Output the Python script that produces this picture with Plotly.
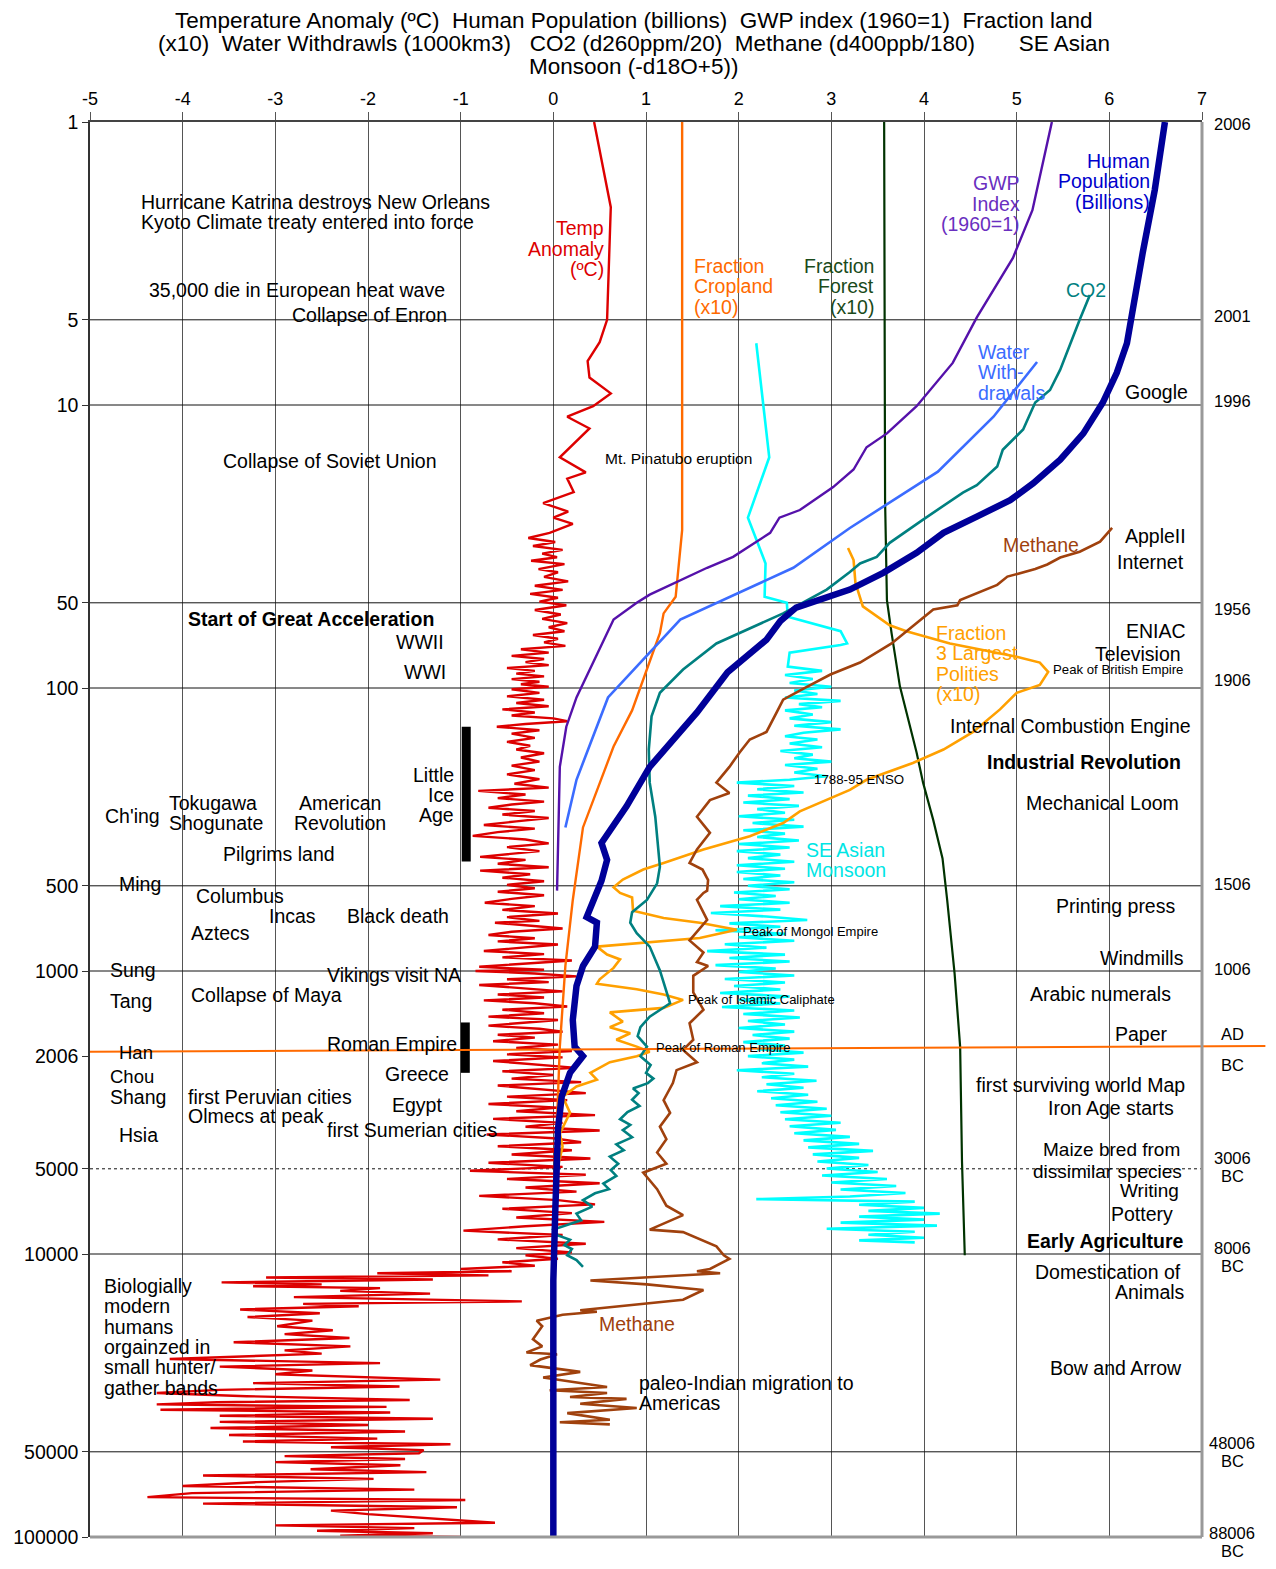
import math
import plotly.graph_objects as go

FONT = "Liberation Sans, Arial, sans-serif"

# ---------------- DATA (years before 2006, value on common x scale) ----------------
LEFT_TICKS = [1, 5, 10, 50, 100, 500, 1000, 2006, 5000, 10000, 50000, 100000]
X_TICKS = [-5, -4, -3, -2, -1, 0, 1, 2, 3, 4, 5, 6, 7]
GRID_Y = [5, 10, 50, 100, 500, 1000, 5000, 10000, 50000]

TEMP = [(1, 0.44), (2.0, 0.62), (5.0, 0.58), (6.0, 0.50), (7.0, 0.37), (8.0, 0.39), (9.1, 0.62), (10.1, 0.43),
        (11, 0.15), (12.1, 0.39), (15.3, 0.07), (17.3, 0.35), (18.2, 0.15), (20.3, 0.22), (22.2, -0.11),
        (23.8, 0.16), (25, 0.0), (26.3, 0.21), (28.3, -0.04), (29.5, -0.27), (30.5, 0.02), (31.5, -0.22),
        (32.5, 0.1), (33.5, -0.12), (34.5, 0.04), (35.5, -0.24), (36.5, 0.12), (38, -0.16), (39, 0.05),
        (40.5, -0.1), (42, 0.16), (43.5, -0.2), (45, 0.1), (46.5, -0.25), (48, 0.05), (49.5, -0.15),
        (51, 0.14), (53, -0.2), (55, 0.08), (57, -0.12), (59, 0.15), (61, -0.05), (63, 0.12), (65, -0.22),
        (67, 0.05), (69, -0.1), (71, 0.13), (73, -0.35), (75, -0.05), (77, -0.45), (79, -0.1), (81, -0.3),
        (83, -0.05), (85, -0.5), (87, -0.2), (89, -0.4), (91, -0.1), (93, -0.45), (95, -0.15), (97, -0.35),
        (99, -0.05), (101, -0.45), (104, -0.15), (107, -0.5), (110, -0.1), (113, -0.4), (116, -0.05),
        (119, -0.55), (122, -0.2), (125, -0.45), (128, 0.0), (131, 0.15), (134, -0.3), (137, -0.61),
        (141, -0.15), (145, -0.45), (150, -0.2), (155, -0.5), (160, -0.25), (165, -0.4), (170, -0.1),
        (176, -0.35), (182, -0.15), (188, -0.45), (195, -0.2), (202, -0.5), (210, -0.15), (218, -0.42),
        (225, -0.05), (231, -0.81), (238, -0.3), (245, -0.6), (252, -0.1), (258, -0.45), (265, -0.7),
        (272, -0.2), (280, -0.55), (288, -0.05), (296, -0.4), (305, -0.75), (314, -0.2), (323, -0.6),
        (333, -0.87), (343, -0.3), (354, -0.05), (365, -0.5), (377, -0.15), (388, -0.6), (395, -0.79),
        (405, -0.3), (418, -0.6), (430, -0.05), (442, -0.79), (455, -0.25), (468, -0.55), (482, -0.1),
        (496, -0.5), (510, -0.2), (525, -0.6), (540, -0.1), (556, -0.45), (574, -0.74), (590, -0.2),
        (608, -0.55), (626, 0.05), (645, -0.5), (665, -0.15), (675, -0.63), (690, -0.3), (708, 0.1),
        (727, -0.45), (746, -0.7), (766, -0.2), (786, -0.6), (806, 0.05), (828, -0.4), (850, -0.75),
        (872, -0.1), (895, -0.55), (918, 0.2), (942, -0.35), (966, -0.8), (990, -0.1), (1000, -0.84),
        (1020, -0.2), (1045, 0.25), (1070, -0.5), (1095, -0.05), (1120, -0.8), (1150, -0.3), (1180, 0.1),
        (1210, -0.6), (1240, -0.1), (1270, -0.75), (1300, -0.2), (1335, 0.15), (1370, -0.55), (1410, -0.1),
        (1450, -0.7), (1490, 0.05), (1530, -0.45), (1560, -0.7), (1600, -0.15), (1640, 0.1), (1680, -0.6),
        (1720, -0.2), (1770, -0.65), (1820, 0.05), (1870, -0.4), (1920, 0.2), (1970, -0.5), (2020, 0.1),
        (2080, -0.65), (2140, -0.15), (2200, 0.25), (2260, -0.55), (2330, 0.0), (2400, -0.45), (2470, 0.3),
        (2540, -0.6), (2620, -0.1), (2700, 0.35), (2780, -0.5), (2860, 0.15), (2950, -0.7), (3040, 0.05),
        (3130, -0.4), (3230, 0.45), (3330, -0.65), (3440, 0.1), (3550, -0.3), (3660, 0.5), (3780, -0.72),
        (3900, 0.0), (4030, 0.3), (4160, -0.6), (4300, 0.2), (4450, -0.45), (4600, 0.4), (4760, -0.7),
        (4920, 0.1), (5080, -0.9), (5250, 0.35), (5430, -0.5), (5620, 0.5), (5820, -0.3), (6020, 0.25),
        (6230, -0.8), (6450, 0.05), (6680, 0.45), (6920, -0.55), (7170, 0.2), (7430, -0.4), (7700, 0.55),
        (7980, -0.3), (8270, -0.97), (8570, 0.1), (8880, -0.6), (9200, 0.35), (9530, -0.4), (9870, 0.2),
        (10100, -0.3), (10400, 0.05), (10700, -0.55), (11000, -0.2), (11300, -1.0), (11500, -0.45),
        (11700, -1.9), (11900, -0.7), (12100, -3.1), (12300, -1.3), (12600, -3.58), (12800, -2.5),
        (13000, -3.24), (13200, -1.87), (13500, -2.3), (13800, -1.33), (14200, -2.8), (14700, -0.34),
        (15000, -2.7), (15300, -2.1), (15700, -3.38), (16200, -2.52), (16700, -3.3), (17200, -2.6),
        (18000, -2.98), (18600, -2.38), (19200, -2.9), (19800, -2.2), (20500, -3.45), (21200, -2.19),
        (21900, -2.9), (22500, -2.5), (23500, -4.14), (24300, -1.87), (25000, -3.6), (25800, -2.6),
        (26600, -3.0), (27800, -1.22), (28600, -3.24), (29400, -1.66), (30200, -3.6), (31000, -4.28),
        (31800, -3.31), (32800, -1.55), (33400, -3.63), (34000, -4.28), (34700, -1.8), (35500, -4.24),
        (36300, -1.76), (37300, -3.6), (38200, -1.3), (39200, -3.6), (40200, -2.0), (41200, -3.7),
        (42400, -1.6), (43600, -3.5), (44900, -1.9), (46000, -3.35), (47000, -1.11), (48200, -2.4),
        (49300, -1.4), (50600, -1.45), (51800, -2.9), (53000, -1.6), (54400, -3.0), (55800, -1.65),
        (57600, -2.62), (59000, -1.37), (60600, -3.78), (62300, -1.94), (64000, -3.2), (66000, -4.0),
        (68000, -1.5), (70000, -3.9), (72300, -4.38), (74000, -0.95), (76200, -3.78), (78500, -1.04),
        (80700, -2.4), (83000, -2.0), (86500, -1.22), (89000, -0.63), (91000, -3.0), (93000, -1.5),
        (95000, -2.55), (97000, -1.3), (99000, -2.3), (100000, -1.0)]

POPULATION = [(1, 6.6), (1.74, 6.49), (2.9, 6.36), (4.9, 6.25), (6.05, 6.19), (7.7, 6.08), (9.8, 5.93),
              (12.6, 5.72), (15.6, 5.47), (18.9, 5.18), (21.7, 4.93), (24.8, 4.57), (28.3, 4.21),
              (33.3, 3.92), (39.2, 3.56), (44.9, 3.2), (52, 2.62), (58, 2.45), (67.5, 2.3), (88, 1.88),
              (122, 1.55), (190, 1.04), (262, 0.79), (353, 0.52), (405, 0.58), (480, 0.52), (561, 0.43),
              (645, 0.36), (675, 0.47), (820, 0.45), (960, 0.32), (1130, 0.25), (1490, 0.21), (1850, 0.23),
              (2000, 0.32), (2290, 0.18), (2780, 0.09), (3630, 0.05), (7200, 0.02), (12400, 0.0),
              (100000, 0.0)]

GWP = [(1, 5.38), (2.05, 5.17), (3.02, 4.96), (4.9, 4.57), (7.1, 4.31), (10.1, 3.92), (12.6, 3.6),
       (14.1, 3.38), (16.9, 3.24), (19.5, 3.02), (23.5, 2.66), (25, 2.44), (28.3, 2.34), (34.4, 1.94),
       (37.6, 1.66), (46.8, 1.04), (50, 0.9), (57.3, 0.65), (108, 0.25), (137, 0.14), (190, 0.07),
       (520, 0.04)]

WATER = [(7.05, 5.22), (11, 4.75), (17.2, 4.15), (27.2, 3.2), (37.6, 2.59), (57.3, 1.37), (108, 0.59),
         (211, 0.25), (311, 0.13)]

CO2 = [(4.09, 5.79), (5.0, 5.68), (7.5, 5.47), (8.85, 5.36), (9.8, 5.2), (12.2, 5.07), (14.4, 4.85),
       (16.5, 4.79), (19.2, 4.57), (20.4, 4.42), (25.4, 3.99), (30.7, 3.63), (34.4, 3.49), (36.3, 3.31),
       (38.9, 3.2), (44.9, 2.95), (54.5, 2.48), (69.6, 1.76), (86, 1.4), (104, 1.15), (126, 1.06),
       (165, 1.03), (216, 1.04), (285, 1.1), (428, 1.15), (490, 1.12), (561, 1.01), (620, 0.85),
       (675, 0.83), (735, 0.9), (820, 1.04), (995, 1.15), (1300, 1.26), (1450, 1.04), (1580, 0.94),
       (1700, 0.91), (1850, 1.01), (2000, 0.94), (2150, 1.05), (2290, 1.0), (2400, 1.08), (2490, 1.02),
       (2600, 0.86), (2700, 0.92), (2850, 0.85), (3000, 0.93), (3150, 0.8), (3340, 0.72), (3500, 0.83),
       (3650, 0.75), (3870, 0.85), (4100, 0.68), (4300, 0.76), (4530, 0.61), (4800, 0.7), (5050, 0.62),
       (5300, 0.68), (5640, 0.54), (5900, 0.6), (6100, 0.45), (6450, 0.32), (6800, 0.42), (7200, 0.25),
       (7600, 0.3), (8200, 0.0), (8600, 0.05), (8900, 0.18), (9300, 0.12), (9600, 0.2), (10100, 0.15),
       (10500, 0.25), (11100, 0.32)]

METHANE = [(27.2, 6.03), (30.4, 5.9), (33, 5.68), (34.6, 5.47), (36.6, 5.33), (38, 5.2), (40.4, 4.9),
           (43.2, 4.79), (48.9, 4.39), (51, 4.36), (52.8, 4.1), (63, 3.81), (69.6, 3.65), (81.3, 3.31),
           (89.6, 2.99), (101, 2.69), (110, 2.48), (122, 2.41), (143, 2.3), (152, 2.12), (169, 2.01),
           (190, 1.9), (216, 1.76), (235, 1.9), (249, 1.69), (285, 1.55), (325, 1.69), (372, 1.55),
           (415, 1.47), (438, 1.61), (477, 1.67), (520, 1.66), (530, 1.62), (560, 1.55), (660, 1.66),
           (780, 1.47), (860, 1.62), (930, 1.55), (960, 1.67), (1040, 1.51), (1190, 1.51), (1370, 1.62),
           (1530, 1.47), (1750, 1.51), (1900, 1.4), (2100, 1.55), (2240, 1.33), (2490, 1.29),
           (2860, 1.19), (3170, 1.26), (3550, 1.15), (3930, 1.22), (4380, 1.12), (4800, 1.22),
           (5160, 0.97), (5900, 1.12), (6750, 1.22), (7290, 1.4), (8200, 1.04), (8370, 1.4), (9400, 1.76),
           (10100, 1.84), (10400, 1.9), (11300, 1.69), (11500, 1.55), (11700, 1.8), (12400, 0.4),
           (12800, 1.01), (13400, 1.62), (14500, 1.4), (15800, 0.29), (16000, 0.47), (16400, 0.1),
           (17200, -0.18), (18000, -0.12), (20000, -0.22), (21200, -0.12), (22300, -0.29), (22600, 0.04),
           (23600, -0.14), (24700, -0.25), (26100, 0.29), (27300, -0.11), (29500, 0.58), (30300, -0.04),
           (31000, 0.58), (32000, 0.18), (32500, 0.79), (33800, 0.29), (35000, 0.9), (36500, 0.15),
           (38500, 0.61), (39300, 0.07), (40000, 0.61)]

CROPLAND = [(1, 1.39), (27.7, 1.39), (47.6, 1.32), (54.5, 1.19), (64, 1.15), (120, 0.85), (161, 0.65),
            (311, 0.32), (561, 0.21), (960, 0.13), (1850, 0.07), (5050, 0.02), (10000, 0.0)]

FOREST = [(1, 3.57), (21.7, 3.58), (48.9, 3.6), (64, 3.65), (98.7, 3.74), (137, 3.85), (169, 3.92),
          (216, 3.99), (293, 4.1), (400, 4.2), (561, 4.25), (1020, 4.33), (1850, 4.39), (4700, 4.41),
          (10100, 4.44)]

POLITIES = [(32, 3.18), (35.3, 3.24), (42.5, 3.26), (51.5, 3.34), (60, 3.63), (63, 3.81), (69.6, 4.28),
            (77.6, 5.0), (81.3, 5.25), (87.7, 5.34), (97.6, 5.25), (104, 5.0), (119, 4.82), (143, 4.53),
            (165, 4.21), (184, 3.88), (211, 3.38), (229, 3.2), (273, 2.66), (300, 2.48), (334, 2.12),
            (372, 1.62), (415, 1.19), (438, 0.97), (475, 0.75), (506, 0.65), (530, 0.72), (550, 0.85),
            (612, 0.86), (650, 1.19), (675, 1.58), (715, 1.98), (765, 1.58), (820, 0.47), (875, 0.58),
            (910, 0.72), (975, 0.65), (1070, 0.5), (1110, 0.47), (1160, 0.9), (1210, 1.19), (1265, 1.4),
            (1350, 1.19), (1400, 0.61), (1510, 0.75), (1580, 0.61), (1660, 0.83), (1750, 0.68),
            (1850, 0.9), (1930, 1.04), (2000, 0.9), (2100, 0.61), (2290, 0.4), (2420, 0.47), (2560, 0.25),
            (2780, 0.1), (3170, 0.18), (3750, 0.07), (4170, 0.1), (5050, 0.04)]

MONSOON = [(6.05, 2.19), (15.3, 2.33), (25, 2.1), (36.3, 2.29), (47.6, 2.28), (50, 2.52), (56, 2.53),
           (63, 3.1), (69.6, 3.17), (70.5, 3.1), (75, 2.55), (84, 2.53), (87, 2.9), (90, 2.5), (93, 2.8),
           (96, 2.55), (99, 3.0), (102, 2.6), (105, 2.85), (108, 2.5), (111, 3.1), (114, 2.65), (117, 2.9),
           (120, 2.5), (124, 2.8), (128, 2.55), (132, 3.0), (136, 2.6), (140, 3.1), (144, 2.7), (148, 2.5),
           (152, 2.85), (157, 2.55), (162, 2.9), (167, 2.45), (172, 2.8), (177, 2.6), (182, 3.0),
           (187, 2.5), (193, 2.85), (199, 2.6), (205, 2.95), (211, 2.55), (216, 1.98), (222, 2.6),
           (228, 2.2), (234, 2.7), (240, 2.1), (247, 2.55), (254, 2.05), (261, 2.65), (268, 2.2),
           (276, 2.5), (284, 2.0), (292, 2.6), (300, 2.15), (309, 2.7), (318, 2.05), (327, 2.5),
           (336, 2.2), (346, 2.65), (356, 2.0), (366, 2.55), (377, 1.98), (388, 2.45), (399, 2.1),
           (411, 2.6), (423, 1.98), (435, 2.5), (447, 1.98), (460, 2.45), (473, 2.05), (486, 2.6),
           (500, 2.1), (514, 2.55), (528, 1.95), (543, 2.4), (558, 2.0), (574, 2.55), (590, 1.8),
           (607, 2.45), (624, 1.7), (642, 2.3), (660, 2.74), (679, 1.9), (698, 2.45), (718, 1.75),
           (739, 2.5), (760, 2.0), (782, 2.6), (804, 1.85), (827, 2.3), (851, 1.66), (875, 2.5), (900, 1.9),
           (926, 2.55), (953, 1.75), (980, 2.4), (1008, 2.0), (1037, 2.6), (1067, 1.85), (1098, 2.5),
           (1130, 1.95), (1162, 2.45), (1196, 1.8), (1230, 2.55), (1266, 2.0), (1302, 2.45), (1340, 1.82),
           (1379, 2.6), (1419, 2.05), (1460, 2.66), (1502, 2.1), (1546, 2.5), (1591, 2.0), (1637, 2.6),
           (1684, 2.15), (1733, 2.55), (1783, 2.05), (1835, 2.5), (1888, 2.2), (1943, 2.7), (1999, 2.1),
           (2057, 2.6), (2117, 2.25), (2178, 2.75), (2241, 1.98), (2306, 2.6), (2373, 2.25), (2441, 2.84),
           (2512, 2.3), (2585, 2.7), (2660, 2.2), (2737, 2.75), (2816, 2.35), (2898, 2.85), (2981, 2.4),
           (3068, 2.95), (3156, 2.45), (3248, 3.0), (3342, 2.5), (3439, 3.1), (3538, 2.55), (3641, 3.05),
           (3746, 2.6), (3855, 3.2), (3967, 2.7), (4082, 3.3), (4200, 2.75), (4322, 3.45), (4447, 2.8),
           (4576, 3.3), (4709, 2.85), (4845, 3.4), (4986, 2.95), (5130, 3.5), (5279, 2.9), (5432, 3.6),
           (5590, 3.0), (5752, 3.7), (5918, 3.1), (6090, 3.8), (6267, 3.2), (6400, 2.19), (6530, 3.9),
           (6700, 3.3), (6870, 4.0), (7040, 3.4), (7200, 4.17), (7380, 3.3), (7560, 4.0), (7750, 3.1),
           (7940, 4.14), (8140, 2.95), (8340, 3.9), (8550, 3.4), (8760, 4.0), (8950, 3.3), (9100, 3.9)]

LITTLE_ICE_AGE = [137, 410]
ROMAN_EMPIRE = [1520, 2290]
AD_BC_LINE = [1930, 1840]   # years-before-present at left and right edge

RIGHT_LABELS = [("2006",), ("2001",), ("1996",), ("1956",), ("1906",), ("1506",), ("1006",), ("AD",), ("BC",),
                ("3006", "BC"), ("8006", "BC"), ("48006", "BC"), ("88006", "BC")]
RIGHT_LABEL_POS = [1.02, 4.85, 9.68, 52.6, 93.8, 493, 984, 1670, 2150, 4930, 10250, 50100, 104200]

TITLE_LINES = ["Temperature Anomaly (ºC)\u00a0 Human Population (billions)\u00a0 GWP index (1960=1)\u00a0 Fraction land",
               "(x10)\u00a0 Water Withdrawls (1000km3)\u00a0\u00a0 CO2 (d260ppm/20)\u00a0 Methane (d400ppb/180)\u00a0\u00a0\u00a0\u00a0\u00a0\u00a0 SE Asian",
               "Monsoon (-d18O+5))"]

# ---------------- FIGURE ----------------
fig = go.Figure()


def add_series(pairs, color, width, dash="solid"):
    fig.add_trace(go.Scatter(x=[p[1] for p in pairs], y=[p[0] for p in pairs], mode="lines",
                             line=dict(color=color, width=width, dash=dash), hoverinfo="skip",
                             showlegend=False))


for g in GRID_Y:
    add_series([(g, -5), (g, 7)], "#111111", 1, "dot" if g in (5000,) else "solid")

add_series(TEMP, "#dd0000", 2.4)
add_series(FOREST, "#003300", 2.2)
add_series(CROPLAND, "#ff6a00", 2.4)
add_series(MONSOON, "#00ffff", 2.6)
add_series(POLITIES, "#ffa000", 2.6)
add_series(METHANE, "#a0410d", 2.6)
add_series(CO2, "#008080", 2.6)
add_series(WATER, "#3b6cff", 2.6)
add_series(GWP, "#5511aa", 2.4)
add_series(POPULATION, "#000099", 6.5)
add_series([(LITTLE_ICE_AGE[0], -0.94), (LITTLE_ICE_AGE[1], -0.94)], "black", 9)
add_series([(ROMAN_EMPIRE[0], -0.95), (ROMAN_EMPIRE[1], -0.95)], "black", 9)

ANN = []
FS = 19.5


def text(t, x, y, anchor="left", size=FS, color="black", bold=False):
    ANN.append(dict(text=f"<b>{t}</b>" if bold else t, x=x, y=math.log10(y), xref="x", yref="y",
                    xanchor=anchor, yanchor="middle", showarrow=False,
                    font=dict(size=size, color=color, family=FONT)))


def block(lines, x, y_first, anchor="left", size=FS, color="black", step=0.072):
    L0 = math.log10(y_first)
    for i, t in enumerate(lines):
        ANN.append(dict(text=t, x=x, y=L0 + i * step, xref="x", yref="y", xanchor=anchor,
                        yanchor="middle", showarrow=False, font=dict(size=size, color=color, family=FONT)))


# event annotations
text("Hurricane Katrina destroys New Orleans", -4.47, 1.92)
text("Kyoto Climate treaty entered into force", -4.47, 2.26)
text("35,000 die in European heat wave", -4.39, 3.92)
text("Collapse of Enron", -1.13, 4.81, "right")
text("Collapse of Soviet Union", -3.59, 15.8)
text("Mt. Pinatubo eruption", 0.54, 15.5, size=15.5)
text("Start of Great Acceleration", -3.96, 57, bold=True)
text("WWII", -1.16, 68.8, "right")
text("WWI", -1.14, 87.7, "right")
block(["Little", "Ice", "Age"], -1.05, 10 ** 2.306, "right")
text("Ch'ing", -4.86, 283)
block(["Tokugawa", "Shogunate"], -4.17, 255)
block(["American", "Revolution"], -2.3, 255, "center")
text("Pilgrims land", -3.59, 386)
text("Ming", -4.71, 493)
text("Columbus", -3.88, 543)
text("Incas", -3.09, 640)
text("Black death", -2.25, 640)
text("Aztecs", -3.93, 734)
text("Sung", -4.81, 992)
text("Vikings visit NA", -2.46, 1033)
text("Tang", -4.81, 1276)
text("Collapse of Maya", -3.93, 1216)
text("Roman Empire", -2.46, 1811)
text("Han", -4.71, 1935, size=18.5)
text("Chou", -4.81, 2350, size=18.5)
text("Greece", -1.84, 2311)
text("Shang", -4.81, 2788)
text("first Peruvian cities", -3.96, 2788)
text("Olmecs at peak", -3.96, 3254)
text("Egypt", -1.76, 2974)
text("first Sumerian cities", -2.46, 3647)
text("Hsia", -4.71, 3800)
block(["Biologially", "modern", "humans", "orgainzed in", "small hunter/", "gather bands"], -4.87, 10 ** 4.113)
text("Methane", 0.47, 10 ** 4.247, color="#a0410d")
block(["paleo-Indian migration to", "Americas"], 0.90, 10 ** 4.456)

text("Google", 6.87, 10 ** 0.954, "right")
text("AppleII", 6.85, 10 ** 1.463, "right")
text("Internet", 6.83, 10 ** 1.555, "right")
text("ENIAC", 6.85, 10 ** 1.799, "right")
text("Television", 6.79, 10 ** 1.880, "right")
text("Peak of British Empire", 5.37, 10 ** 1.936, size=13.2)
text("Internal Combustion Engine", 6.9, 10 ** 2.134, "right")
text("Industrial Revolution", 6.79, 10 ** 2.261, "right", bold=True)
text("Mechanical Loom", 6.77, 10 ** 2.406, "right")
text("Printing press", 6.73, 10 ** 2.770, "right")
text("Windmills", 6.83, 10 ** 2.954, "right")
text("Arabic numerals", 6.69, 10 ** 3.081, "right")
text("Paper", 6.66, 10 ** 3.223, "right")
text("first surviving world Map", 6.84, 10 ** 3.403, "right")
text("Iron Age starts", 6.72, 10 ** 3.484, "right")
text("Maize bred from", 6.78, 10 ** 3.630, "right", size=19)
text("dissimilar species", 6.81, 10 ** 3.707, "right", size=19)
text("Writing", 6.77, 10 ** 3.775, "right", size=19)
text("Pottery", 6.71, 10 ** 3.859, "right")
text("Early Agriculture", 6.83, 10 ** 3.954, "right", bold=True)
text("Domestication of", 6.79, 10 ** 4.064, "right")
text("Animals", 6.84, 10 ** 4.134, "right")
text("Bow and Arrow", 6.81, 10 ** 4.403, "right")

# series labels
block(["Temp", "Anomaly", "(ºC)"], 0.57, 10 ** 0.375, "right", color="#dd0000")
block(["Fraction", "Cropland", "(x10)"], 1.5, 10 ** 0.509, color="#ff6a00")
block(["Fraction", "Forest", "(x10)"], 3.48, 10 ** 0.509, "right", color="#1a4a1a")
block(["GWP", "Index", "(1960=1)"], 5.06, 10 ** 0.216, "right", color="#6a2fc0")
block(["Human", "Population", "(Billions)"], 6.46, 10 ** 0.138, "right", color="#0000cc")
text("CO2", 5.51, 10 ** 0.594, color="#008080")
block(["Water", "With-", "drawals"], 4.56, 10 ** 0.813, color="#3b6cff")
text("Methane", 4.83, 10 ** 1.495, color="#a0410d")
block(["Fraction", "3 Largest", "Polities", "(x10)"], 4.11, 10 ** 1.806, color="#ffa000")
block(["SE Asian", "Monsoon"], 2.71, 10 ** 2.572, color="#00e5e5")
text("1788-95 ENSO", 2.79, 10 ** 2.325, size=13.3)
text("Peak of Mongol Empire", 2.02, 10 ** 2.859, size=13)
text("Peak of Islamic Caliphate", 1.43, 10 ** 3.099, size=13)
text("Peak of Roman Empire", 1.09, 10 ** 3.272, size=13)

# right-hand calendar labels (paper coordinates derived from the log axis)
for lines, pos in zip(RIGHT_LABELS, RIGHT_LABEL_POS):
    L0 = math.log10(pos) - 0.032 * (len(lines) - 1)
    for i, t in enumerate(lines):
        ANN.append(dict(text=t, x=1.027, y=1 - (L0 + i * 0.064) / 5, xref="paper", yref="paper",
                        xanchor="center", yanchor="middle", showarrow=False,
                        font=dict(size=16.5, color="black", family=FONT)))

# title
for i, t in enumerate(TITLE_LINES):
    ANN.append(dict(text=t, x=0.489, y=1.0719 - i * 0.0163, xref="paper", yref="paper", xanchor="center",
                    yanchor="middle", showarrow=False, font=dict(size=22.5, color="black", family=FONT)))

shapes = [
    dict(type="line", xref="paper", yref="paper", x0=0, x1=1.057,
         y0=1 - math.log10(AD_BC_LINE[0]) / 5, y1=1 - math.log10(AD_BC_LINE[1]) / 5,
         line=dict(color="#ff6a00", width=2)),
    dict(type="line", xref="paper", yref="paper", x0=0, x1=1, y0=0, y1=0, line=dict(color="#999999", width=3)),
    dict(type="line", xref="paper", yref="paper", x0=1, x1=1, y0=0, y1=1, line=dict(color="#999999", width=3)),
]

# the page body adds an 8px margin, so the figure is 8px smaller and margins are shifted accordingly
fig.update_layout(
    width=1268, height=1561,
    margin=dict(l=82, r=74, t=114, b=32, autoexpand=False),
    plot_bgcolor="white", paper_bgcolor="white",
    showlegend=False,
    annotations=ANN,
    shapes=shapes,
    xaxis=dict(range=[-5, 7], side="top", tickvals=X_TICKS, ticktext=[str(v) for v in X_TICKS],
               showgrid=True, gridcolor="#555555", gridwidth=1, automargin=False,
               zeroline=False, ticks="outside", ticklen=8, tickcolor="#555555", showline=True,
               linecolor="#444444", linewidth=2, tickfont=dict(size=18, family=FONT, color="black")),
    yaxis=dict(type="log", range=[5, 0], tickvals=LEFT_TICKS, ticktext=[str(v) for v in LEFT_TICKS],
               showgrid=False, zeroline=False, ticks="outside", ticklen=6, tickcolor="#333333",
               showline=True, linecolor="#333333", linewidth=1.5, automargin=False,
               tickfont=dict(size=19.5, family=FONT, color="black")),
)

fig.write_html("out.html")
